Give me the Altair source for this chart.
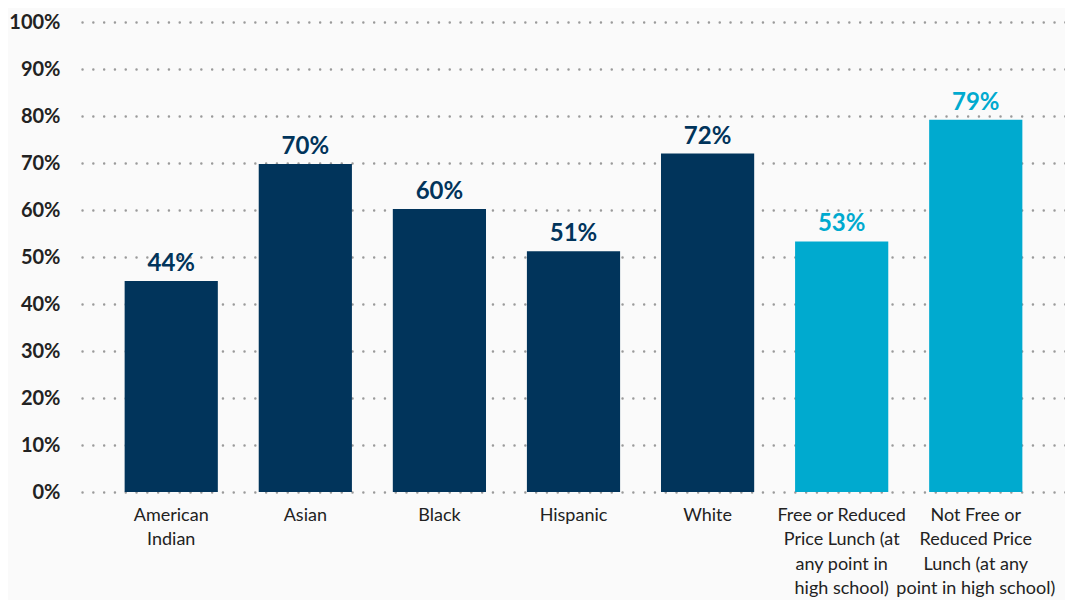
import altair as alt
import pandas as pd

categories = [
    "American\nIndian",
    "Asian",
    "Black",
    "Hispanic",
    "White",
    "Free or Reduced\nPrice Lunch (at\nany point in\nhigh school)",
    "Not Free or\nReduced Price\nLunch (at any\npoint in high school)",
]
values = [44.9, 69.8, 60.2, 51.2, 72.0, 53.3, 79.2]
value_labels = ["44%", "70%", "60%", "51%", "72%", "53%", "79%"]
groups = ["race", "race", "race", "race", "race", "lunch", "lunch"]

group_domain = ["race", "lunch"]
group_colors = ["#01345B", "#00AACF"]

df = pd.DataFrame({
    "category": categories,
    "value": values,
    "label": value_labels,
    "group": groups,
})

FONT = "Lato"

x_enc = alt.X(
    "category:N",
    sort=categories,
    title=None,
    scale=alt.Scale(paddingInner=0.305, paddingOuter=0.318),
    axis=alt.Axis(
        labelAngle=0,
        labelExpr="split(datum.label, '\\n')",
        labelFont=FONT,
        labelFontSize=18,
        labelColor="#222222",
        labelPadding=14,
        labelLineHeight=24.5,
        labelBaseline="top",
        ticks=False,
        domain=False,
        grid=False,
        labelLimit=300,
    ),
)

y_enc = alt.Y(
    "value:Q",
    title=None,
    scale=alt.Scale(domain=[0, 100], nice=False),
    axis=alt.Axis(
        values=list(range(0, 101, 10)),
        labelExpr="datum.value + '%'",
        labelFont=FONT,
        labelFontSize=20,
        labelFontWeight="bold",
        labelColor="#222222",
        labelPadding=22,
        ticks=False,
        domain=False,
        grid=True,
        gridColor="#9a9a9a",
        gridWidth=2.4,
        gridDash=[0.1, 10.7],
        gridCap="round",
    ),
)

color_enc = alt.Color(
    "group:N",
    scale=alt.Scale(domain=group_domain, range=group_colors),
    legend=None,
)

bars = alt.Chart(df).mark_bar().encode(x=x_enc, y=y_enc, color=color_enc)

texts = alt.Chart(df).mark_text(
    font=FONT,
    fontSize=24,
    fontWeight="bold",
    baseline="bottom",
    dy=-5,
).encode(
    x=alt.X("category:N", sort=categories),
    y=alt.Y("value:Q"),
    text="label:N",
    color=color_enc,
)

chart = (
    alt.layer(bars, texts)
    .properties(
        width=983,
        height=470,
        background="#FAFAFA",
        padding={"left": 74, "top": 14, "right": 0, "bottom": 108},
        autosize=alt.AutoSizeParams(type="none"),
    )
    .configure_view(stroke=None)
)

chart.save("out.html", embed_options={"renderer": "svg", "actions": False})
